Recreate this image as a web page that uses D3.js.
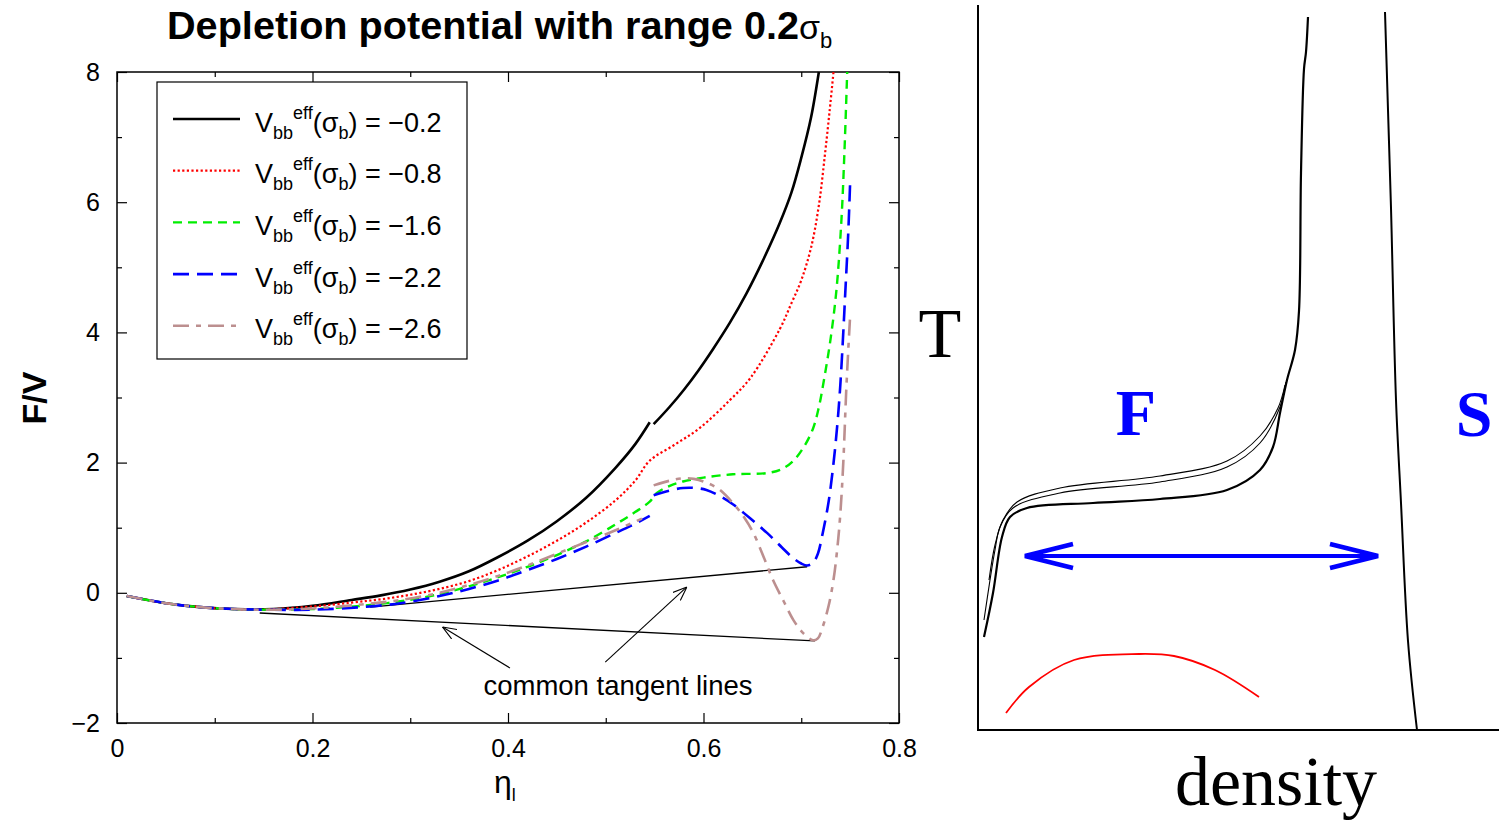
<!DOCTYPE html>
<html>
<head>
<meta charset="utf-8">
<script src="https://cdn.jsdelivr.net/npm/d3@7"></script>
<style>
  body { margin: 0; background: #fff; }
  svg { display: block; }
  .tick text { font-family: "Liberation Sans", Arial, sans-serif; font-size: 25px; fill: #000; }
  .axis path { display: none; }
  .axis line { stroke: #000; stroke-width: 1.2; }
</style>
</head>
<body>
<div id="chart"></div>
<script>
// ---------- left panel: F/V versus packing fraction ----------
var xTicks = [0, 0.2, 0.4, 0.6, 0.8];
var yTicks = [-2, 0, 2, 4, 6, 8];
var legendValues = ['\u22120.2', '\u22120.8', '\u22121.6', '\u22122.2', '\u22122.6'];

// Veff = -0.2 (two branches)
var black1 = [[0.01,-0.05],[0.05,-0.16],[0.085,-0.22],[0.12,-0.25],[0.16,-0.25],[0.2,-0.2],[0.24,-0.11],[0.27,-0.04],[0.3,0.05],[0.33,0.17],[0.36,0.33],[0.39,0.55],[0.42,0.8],[0.45,1.1],[0.48,1.46],[0.51,1.92],[0.53,2.28],[0.545,2.62]];
var black2 = [[0.549,2.59],[0.565,2.85],[0.58,3.12],[0.595,3.42],[0.61,3.75],[0.627,4.15],[0.644,4.6],[0.66,5.08],[0.678,5.68],[0.69,6.15],[0.7,6.68],[0.71,7.3],[0.718,8.0]];
// Veff = -0.8
var red1 = [[0.01,-0.05],[0.05,-0.16],[0.085,-0.22],[0.12,-0.25],[0.16,-0.25],[0.2,-0.21],[0.24,-0.15],[0.27,-0.1],[0.3,-0.03],[0.33,0.06],[0.36,0.18],[0.39,0.35],[0.42,0.56],[0.45,0.8],[0.48,1.08],[0.51,1.42],[0.53,1.72],[0.545,2.03],[0.57,2.27],[0.596,2.53],[0.627,2.96],[0.648,3.3],[0.678,4.05],[0.69,4.45],[0.7,4.8],[0.71,5.3],[0.718,5.95],[0.724,6.7],[0.729,7.4],[0.733,8.0]];
// Veff = -1.6
var green1 = [[0.01,-0.05],[0.05,-0.16],[0.085,-0.22],[0.12,-0.25],[0.16,-0.26],[0.2,-0.25],[0.25,-0.2],[0.29,-0.13],[0.33,-0.02],[0.36,0.1],[0.39,0.24],[0.42,0.4],[0.45,0.58],[0.48,0.79],[0.51,1.05],[0.53,1.24],[0.545,1.4],[0.552,1.53],[0.565,1.64],[0.579,1.71],[0.6,1.77],[0.63,1.82],[0.665,1.84],[0.68,1.9],[0.692,2.03],[0.703,2.25],[0.712,2.52],[0.718,2.85],[0.723,3.25],[0.73,3.9],[0.736,4.65],[0.741,5.7],[0.744,6.7],[0.747,8.0]];
// Veff = -2.2 (two branches)
var blue1 = [[0.01,-0.05],[0.05,-0.16],[0.085,-0.22],[0.12,-0.25],[0.16,-0.26],[0.2,-0.26],[0.25,-0.22],[0.29,-0.16],[0.33,-0.05],[0.36,0.06],[0.39,0.19],[0.42,0.35],[0.45,0.52],[0.48,0.71],[0.51,0.92],[0.53,1.06],[0.545,1.18]];
var blue2 = [[0.549,1.5],[0.565,1.57],[0.579,1.61],[0.592,1.61],[0.603,1.58],[0.615,1.5],[0.63,1.36],[0.648,1.14],[0.665,0.92],[0.68,0.7],[0.692,0.53],[0.7,0.45],[0.706,0.42],[0.712,0.46],[0.717,0.6],[0.722,0.92],[0.728,1.4],[0.733,1.99],[0.737,2.6],[0.74,3.2],[0.743,4.0],[0.745,4.6],[0.748,5.5],[0.75,6.3]];
// Veff = -2.6 (two branches)
var brown1 = [[0.01,-0.05],[0.05,-0.16],[0.085,-0.22],[0.12,-0.25],[0.16,-0.26],[0.2,-0.24],[0.25,-0.18],[0.29,-0.11],[0.33,0.0],[0.36,0.12],[0.39,0.26],[0.42,0.42],[0.45,0.6],[0.48,0.78],[0.51,0.96],[0.537,1.14]];
var brown2 = [[0.549,1.65],[0.565,1.72],[0.579,1.76],[0.59,1.75],[0.6,1.71],[0.615,1.6],[0.63,1.38],[0.642,1.15],[0.651,0.92],[0.661,0.57],[0.671,0.2],[0.682,-0.13],[0.692,-0.42],[0.702,-0.62],[0.712,-0.73],[0.717,-0.7],[0.722,-0.52],[0.728,-0.2],[0.733,0.2],[0.737,0.7],[0.74,1.22],[0.743,2.0],[0.746,3.1],[0.748,3.7],[0.75,4.25]];

// common tangent lines and the arrows pointing at them
var tangent1 = [[0.259,-0.22],[0.706,0.40]];
var tangent2 = [[0.146,-0.31],[0.714,-0.74]];
var pointer1 = [[0.402,-1.155],[0.333,-0.525]];
var pointer2 = [[0.4995,-1.065],[0.583,0.09]];

// ---------- right panel: schematic phase diagram (arbitrary units) ----------
var fluidThick = [[6,93],[15,137],[24,193],[32,213],[49,222],[115,227],[182,231],[249,240],[282,260],[295,283],[302,317],[309,350],[317,380],[321,419],[323,557],[326,661],[328,678],[330,713]];
var fluidMid = [[6,110],[12,150],[17,180],[22,203],[35,222],[82,237],[182,248],[249,263],[282,287],[302,323],[308,348]];
var fluidTop = [[11,150],[17,185],[25,210],[39,228],[82,242],[182,254],[249,269],[282,294],[300,322],[307,345]];
var solidLine = [[407,718],[410,620],[413,522],[418,330],[423,227],[430,89],[439,0]];
var redCurve = [[28,17],[51,43],[96,70],[161,76],[196,74],[237,60],[281,33]];
var coexArrow = [[47,174],[400,174]];

var W = 1499, H = 822;
var svg = d3.select('#chart').append('svg').attr('width', W).attr('height', H);

var x = d3.scaleLinear().domain([0, 0.8]).range([117, 899]);
var y = d3.scaleLinear().domain([-2, 8]).range([723, 72]);

// minor + major ticks on all four sides, pointing inward
var gx = svg.append('g').attr('class', 'axis').attr('transform', 'translate(0,723)');
gx.call(d3.axisBottom(x).tickValues([0.1, 0.3, 0.5, 0.7]).tickSize(-5).tickFormat(''));
gx.append('g').call(d3.axisBottom(x).tickValues(xTicks).tickSize(-10).tickPadding(16).tickFormat(d3.format('')));
var gxt = svg.append('g').attr('class', 'axis').attr('transform', 'translate(0,72)');
gxt.call(d3.axisTop(x).tickValues([0.1, 0.3, 0.5, 0.7]).tickSize(-5).tickFormat(''));
gxt.append('g').call(d3.axisTop(x).tickValues(xTicks).tickSize(-10).tickFormat(''));

var gy = svg.append('g').attr('class', 'axis').attr('transform', 'translate(117,0)');
gy.call(d3.axisLeft(y).tickValues([-1, 1, 3, 5, 7]).tickSize(-5).tickFormat(''));
gy.append('g').call(d3.axisLeft(y).tickValues(yTicks).tickSize(-10).tickPadding(17).tickFormat(d3.format('')));
var gyr = svg.append('g').attr('class', 'axis').attr('transform', 'translate(899,0)');
gyr.call(d3.axisRight(y).tickValues([-1, 1, 3, 5, 7]).tickSize(-5).tickFormat(''));
gyr.append('g').call(d3.axisRight(y).tickValues(yTicks).tickSize(-10).tickFormat(''));
svg.selectAll('.axis .tick line').attr('stroke', '#000');

svg.append('rect')
  .attr('x', x(0)).attr('y', y(8))
  .attr('width', x(0.8) - x(0)).attr('height', y(-2) - y(8))
  .attr('fill', 'none').attr('stroke', '#000').attr('stroke-width', 1.5);

var line = d3.line()
  .x(function (d) { return x(d[0]); })
  .y(function (d) { return y(d[1]); })
  .curve(d3.curveCatmullRom.alpha(0.5));

var series = [
  { segs: [black1, black2], color: '#000000', dash: null, width: 2.6 },
  { segs: [red1], color: '#ff0000', dash: '2.2,2.4', width: 2.2 },
  { segs: [green1], color: '#00ee00', dash: '9,6', width: 2.4 },
  { segs: [blue1, blue2], color: '#0000ff', dash: '16,8', width: 2.6 },
  { segs: [brown1, brown2], color: '#bc8f8f', dash: '16,7,5,7', width: 2.6 }
];

// tangents under the curves
var straight = d3.line().x(function (d) { return x(d[0]); }).y(function (d) { return y(d[1]); });
[tangent1, tangent2].forEach(function (t) {
  svg.append('path').attr('d', straight(t)).attr('fill', 'none').attr('stroke', '#000').attr('stroke-width', 1.3);
});

series.forEach(function (s) {
  s.segs.forEach(function (seg) {
    svg.append('path')
      .attr('d', line(seg))
      .attr('fill', 'none')
      .attr('stroke', s.color)
      .attr('stroke-width', s.width)
      .attr('stroke-dasharray', s.dash);
  });
});

// thin arrows for the annotation
var defs = svg.append('defs');
defs.append('marker')
  .attr('id', 'thinhead').attr('markerUnits', 'userSpaceOnUse')
  .attr('viewBox', '0 0 14 12').attr('refX', 14).attr('refY', 6)
  .attr('markerWidth', 14).attr('markerHeight', 12).attr('orient', 'auto')
  .append('path').attr('d', 'M0,0.5 L14,6 L0,11.5')
  .attr('fill', 'none').attr('stroke', '#000').attr('stroke-width', 1.1);

[pointer1, pointer2].forEach(function (p) {
  svg.append('path').attr('d', straight(p)).attr('fill', 'none')
    .attr('stroke', '#000').attr('stroke-width', 1.1).attr('marker-end', 'url(#thinhead)');
});

svg.append('text')
  .attr('x', x(0.5125)).attr('y', 695)
  .attr('text-anchor', 'middle')
  .style('font-family', '"Liberation Sans", Arial, sans-serif').style('font-size', '27.5px')
  .text('common tangent lines');

// legend
var legend = svg.append('g').attr('transform', 'translate(157,82)');
legend.append('rect').attr('width', 310).attr('height', 277)
  .attr('fill', '#fff').attr('stroke', '#000').attr('stroke-width', 1.2);

legendValues.forEach(function (v, i) {
  var row = legend.append('g').attr('transform', 'translate(0,' + (37 + i * 51.7) + ')');
  row.append('line').attr('x1', 16).attr('x2', 83)
    .attr('stroke', series[i].color).attr('stroke-width', series[i].width)
    .attr('stroke-dasharray', series[i].dash);
  var t = row.append('text').attr('x', 98).attr('y', 12.5)
    .style('font-family', '"Liberation Sans", Arial, sans-serif').style('font-size', '27px');
  t.append('tspan').text('V');
  t.append('tspan').attr('dy', 7).style('font-size', '18px').text('bb');
  t.append('tspan').attr('dy', -20).style('font-size', '18px').text('eff');
  t.append('tspan').attr('dy', 13).text('(\u03c3');
  t.append('tspan').attr('dy', 7).style('font-size', '18px').text('b');
  t.append('tspan').attr('dy', -7).text(') = ' + v);
});

// title and axis labels
var title = svg.append('text').attr('x', 167).attr('y', 39)
  .style('font-family', '"Liberation Sans", Arial, sans-serif')
  .style('font-size', '38px').style('font-weight', 'bold');
title.append('tspan').attr('textLength', 632).attr('lengthAdjust', 'spacingAndGlyphs')
  .text('Depletion potential with range 0.2');
title.append('tspan').style('font-weight', 'normal').style('font-size', '34px').text('\u03c3');
title.append('tspan').attr('dy', 9).style('font-weight', 'normal').style('font-size', '22px').text('b');

svg.append('text')
  .attr('transform', 'translate(46,398) rotate(-90)')
  .attr('text-anchor', 'middle')
  .style('font-family', '"Liberation Sans", Arial, sans-serif')
  .style('font-size', '34px').style('font-weight', 'bold')
  .text('F/V');

var xl = svg.append('text').attr('x', 494).attr('y', 793)
  .style('font-family', '"Liberation Sans", Arial, sans-serif').style('font-size', '32px');
xl.append('tspan').text('\u03b7');
xl.append('tspan').attr('dy', 8).style('font-size', '18px').text('l');

// ---------- right panel ----------
var xr = d3.scaleLinear().domain([0, 521]).range([978, 1499]);
var yr = d3.scaleLinear().domain([0, 725]).range([730, 5]);
var rline = d3.line()
  .x(function (d) { return xr(d[0]); })
  .y(function (d) { return yr(d[1]); })
  .curve(d3.curveCatmullRom.alpha(0.5));

svg.append('path')
  .attr('d', d3.line()([[xr(0), yr(725)], [xr(0), yr(0)], [xr(521), yr(0)]]))
  .attr('fill', 'none').attr('stroke', '#000').attr('stroke-width', 2);

svg.append('path').attr('d', rline(fluidThick)).attr('fill', 'none').attr('stroke', '#000').attr('stroke-width', 2.2);
svg.append('path').attr('d', rline(fluidMid)).attr('fill', 'none').attr('stroke', '#000').attr('stroke-width', 1.1);
svg.append('path').attr('d', rline(fluidTop)).attr('fill', 'none').attr('stroke', '#000').attr('stroke-width', 1.1);
svg.append('path').attr('d', rline(solidLine)).attr('fill', 'none').attr('stroke', '#000').attr('stroke-width', 2);
svg.append('path').attr('d', rline(redCurve)).attr('fill', 'none').attr('stroke', '#ff0000').attr('stroke-width', 1.8);

defs.append('marker')
  .attr('id', 'bluehead').attr('markerUnits', 'userSpaceOnUse')
  .attr('viewBox', '0 0 52 30').attr('refX', 50).attr('refY', 15)
  .attr('markerWidth', 52).attr('markerHeight', 30).attr('orient', 'auto-start-reverse')
  .append('path').attr('d', 'M2,3 L50,15 L2,27')
  .attr('fill', 'none').attr('stroke', '#0000ff').attr('stroke-width', 4.5);

svg.append('path')
  .attr('d', d3.line().x(function (d) { return xr(d[0]); }).y(function (d) { return yr(d[1]); })(coexArrow))
  .attr('stroke', '#0000ff').attr('stroke-width', 4).attr('fill', 'none')
  .attr('marker-start', 'url(#bluehead)').attr('marker-end', 'url(#bluehead)');

var serif = '"Liberation Serif", "Times New Roman", serif';
svg.append('text').attr('x', 940).attr('y', 357).attr('text-anchor', 'middle')
  .style('font-family', serif).style('font-size', '70px').text('T');
svg.append('text').attr('x', 1276).attr('y', 805).attr('text-anchor', 'middle')
  .style('font-family', serif).style('font-size', '70px').text('density');
svg.append('text').attr('x', 1136).attr('y', 435).attr('text-anchor', 'middle')
  .style('font-family', serif).style('font-size', '66px').style('font-weight', 'bold')
  .attr('fill', '#0000ff').text('F');
svg.append('text').attr('x', 1474).attr('y', 436).attr('text-anchor', 'middle')
  .style('font-family', serif).style('font-size', '66px').style('font-weight', 'bold')
  .attr('fill', '#0000ff').text('S');
</script>
</body>
</html>
